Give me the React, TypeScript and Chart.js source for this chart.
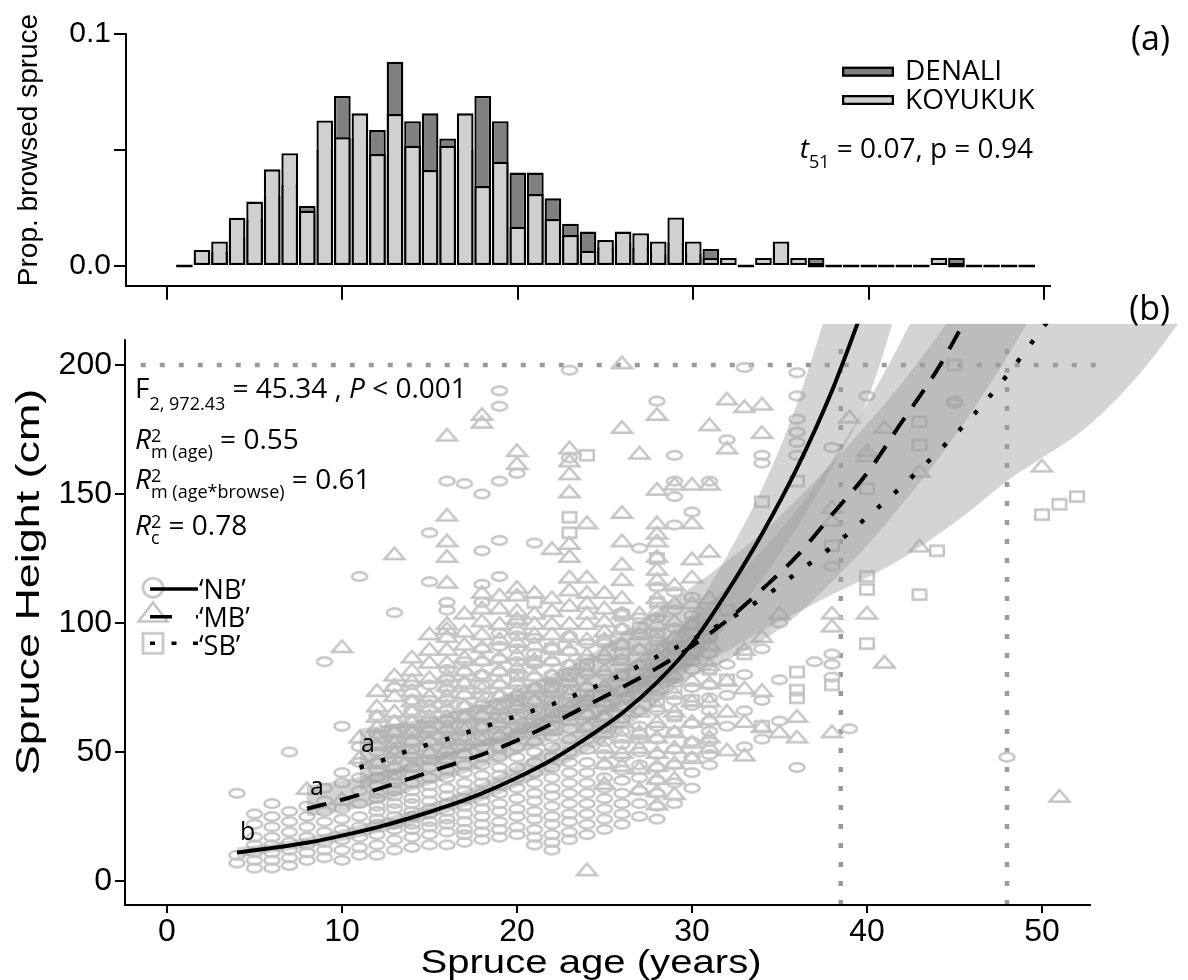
import React, { useEffect, useRef } from "react";
import { Chart, registerables } from "chart.js";

Chart.register(...registerables);

// ---------------- Panel (a): histogram ----------------
const HIST_AGES = [1, 2, 3, 4, 5, 6, 7, 8, 9, 10, 11, 12, 13, 14, 15, 16, 17, 18, 19, 20, 21, 22, 23, 24, 25, 26, 27, 28, 29, 30, 31, 32, 33, 34, 35, 36, 37, 38, 39, 40, 41, 42, 43, 44, 45, 46, 47, 48, 49];
const KOYUKUK = [0, 0.0069, 0.0105, 0.0208, 0.0277, 0.0416, 0.0485, 0.0238, 0.0626, 0.0554, 0.0657, 0.0482, 0.0654, 0.0518, 0.0413, 0.0518, 0.0657, 0.0344, 0.0449, 0.0169, 0.031, 0.0202, 0.0133, 0.0066, 0.0112, 0.0148, 0.0141, 0.0105, 0.0209, 0.0105, 0.0034, 0.0034, 0, 0.0034, 0.0105, 0.0034, 0, 0, 0, 0, 0, 0, 0, 0.0034, 0, 0, 0, 0, 0];
const DENALI = [null, 0.003, 0.006, 0.012, 0.02, 0.03, 0.035, 0.0258, 0.05, 0.0732, 0.055, 0.0585, 0.0879, 0.0623, 0.0657, 0.0549, 0.05, 0.0732, 0.0623, 0.0402, 0.0402, 0.0291, 0.0182, 0.0148, 0.008, 0.01, 0.008, 0.005, 0.01, 0.005, 0.0073, null, null, null, null, null, 0.0034, null, null, null, null, null, null, null, 0.0034, null, null, null, null];
const HIST_Y_TICKS = [0, 0.05, 0.1];
const HIST_Y_LABELS = ["0.0", "", "0.1"];
const X_TICKS = [0, 10, 20, 30, 40, 50];

// ---------------- Panel (b): growth curves ----------------
const HEIGHT_TICKS = [0, 50, 100, 150, 200];

const NB_FIT_AGE = [4, 6, 8, 10, 12, 14, 16, 18, 20, 22, 24, 26, 28, 30, 32, 34, 36, 38, 40];
const NB_FIT = [11, 12.8, 14.8, 17.6, 20.8, 24.6, 29, 34, 40, 47, 55.5, 65, 77, 92, 112, 134.5, 160, 190, 226];
const NB_BAND_AGE = [4, 6, 8, 10, 12, 14, 16, 18, 20, 22, 24, 26, 28, 30, 32, 34, 36, 38, 40, 42];
const NB_LO = [9, 11, 13, 15.5, 18.5, 22, 26.5, 31, 36.5, 42.5, 50, 58.5, 69, 83, 99, 117, 137, 160, 186, 228];
const NB_HI = [13, 14.5, 17, 20, 23.5, 27.5, 32.5, 38, 45, 53, 62, 73, 87, 104, 126, 152, 185, 228, 275, 330];

const MB_FIT_AGE = [8, 10, 12, 14, 16, 18, 20, 22, 24, 26, 28, 30, 32, 34, 36, 38, 40, 42, 44, 46];
const MB_FIT = [28, 31.5, 35.5, 40, 44.5, 49, 54.5, 61, 68, 75, 82.5, 91, 101, 113, 126, 142, 158, 178, 198, 222];
const MB_BAND_AGE = [8, 10, 12, 14, 16, 18, 20, 22, 24, 26, 28, 30, 32, 34, 36, 38, 40, 42, 44, 46, 48, 50];
const MB_LO = [25, 27, 30, 35, 39.5, 44, 49, 55, 61, 67.5, 73.5, 79, 85.5, 93, 103, 116, 130, 146, 163, 182, 203, 226];
const MB_HI = [37, 39, 42, 45.5, 49.5, 54, 59.5, 66, 73.5, 82, 92, 102, 114, 128, 144, 163, 185, 210, 237, 266, 298, 332];

const SB_FIT_AGE = [11, 12, 14, 16, 18, 20, 22, 24, 26, 28, 30, 32, 34, 36, 38, 40, 42, 44, 46, 48, 50, 52];
const SB_FIT = [44, 46, 51, 55, 59.5, 64, 68.5, 74, 80, 87, 93.5, 101, 109.5, 119.5, 129.5, 141, 153, 166, 180, 196, 214, 232];
const SB_BAND_AGE = [11, 12, 14, 16, 18, 20, 22, 24, 26, 28, 30, 32, 34, 36, 38, 40, 42, 44, 46, 48, 50, 52, 54, 56, 58];
const SB_LO = [35, 38, 43.5, 48, 52, 56, 60.5, 65.5, 71, 77, 83, 89, 97, 104, 111, 117.5, 125, 134, 144, 155, 164, 173, 185, 200, 218];
const SB_HI = [59, 60, 62, 65, 69, 74, 80, 87, 96, 105, 114, 124, 135, 148, 162, 177, 193, 211, 231, 252, 276, 300, 330, 360, 392];

// observed spruce heights (cm) per age column
const NB_COLUMNS: Array<[number, number[]]> = [
  [4, [7, 10, 34]],
  [5, [5, 8, 11, 14, 17, 22, 26]],
  [6, [5, 8, 11, 14, 17, 21, 25, 30]],
  [7, [6, 9, 12, 15, 19, 23, 27, 50]],
  [8, [8, 11, 14, 17, 21, 25, 29]],
  [9, [9, 12, 15, 19, 23, 27, 31, 36, 85]],
  [10, [8, 12, 16, 20, 24, 28, 38, 42, 60]],
  [11, [10, 13, 17, 21, 25, 30, 35, 40, 46, 52, 118]],
  [12, [10, 14, 18, 22, 24, 27, 29, 32, 34, 37, 40, 43, 46, 50, 57, 64]],
  [13, [12, 16, 20, 22, 25, 28, 30, 33, 35, 38, 41, 44, 47, 51, 55, 58, 62, 75, 104]],
  [14, [13, 17, 20, 22, 25, 27, 30, 32, 35, 38, 41, 44, 48, 51, 54, 58, 62, 66, 70, 76]],
  [15, [14, 18, 21, 23, 26, 28, 31, 34, 37, 40, 44, 47, 50, 54, 58, 62, 66, 70, 76, 116, 135]],
  [16, [14, 19, 22, 24, 27, 30, 33, 36, 40, 43, 46, 50, 54, 58, 62, 66, 70, 74, 78, 82, 105, 108, 155]],
  [17, [15, 18, 20, 23, 26, 29, 32, 35, 38, 42, 45, 49, 52, 56, 60, 64, 68, 72, 77, 81, 85, 154]],
  [18, [16, 19, 22, 25, 28, 31, 34, 38, 41, 45, 48, 52, 56, 60, 64, 68, 72, 76, 80, 85, 90, 108, 115, 128, 150]],
  [19, [17, 20, 23, 27, 30, 34, 37, 41, 44, 48, 52, 56, 60, 64, 68, 72, 76, 81, 86, 91, 96, 118, 132, 155, 184, 190]],
  [20, [18, 21, 25, 28, 32, 36, 40, 44, 48, 52, 56, 60, 64, 68, 72, 76, 80, 85, 90, 95, 100, 158]],
  [21, [14, 17, 20, 24, 27, 31, 34, 38, 42, 46, 50, 54, 58, 62, 66, 70, 75, 79, 84, 88, 94, 131]],
  [22, [12, 15, 18, 22, 25, 29, 33, 36, 40, 44, 48, 52, 56, 60, 65, 70, 75, 80, 85, 90]],
  [23, [16, 19, 23, 26, 30, 34, 38, 42, 46, 50, 55, 59, 64, 69, 74, 79, 84, 89, 95, 164, 198]],
  [24, [18, 22, 26, 30, 34, 38, 42, 46, 51, 55, 60, 65, 70, 75, 80, 86, 92]],
  [25, [20, 24, 28, 32, 36, 40, 45, 49, 54, 59, 64, 69, 74, 80, 86, 92]],
  [26, [22, 26, 30, 34, 39, 43, 48, 53, 58, 63, 68, 74, 80, 86, 92, 98, 104]],
  [27, [25, 30, 35, 40, 45, 50, 55, 60, 66, 72, 78, 84, 90, 96, 102, 129]],
  [28, [24, 29, 34, 39, 44, 49, 55, 60, 66, 72, 78, 84, 90, 96, 102, 108, 114, 186]],
  [29, [30, 38, 45, 51, 58, 64, 70, 77, 84, 91, 98, 105, 112, 138, 149, 155, 165]],
  [30, [36, 42, 48, 54, 61, 68, 75, 82, 89, 96, 103, 110, 143]],
  [31, [45, 49, 54, 58, 62, 66, 71, 76, 82, 88, 94, 100, 155]],
  [32, [60, 72, 84, 171]],
  [33, [52, 66, 80, 199]],
  [34, [55, 70, 90, 162, 165]],
  [35, [62, 78, 100]],
  [36, [44, 165, 170, 174, 179, 188, 197]],
  [37, [85]],
  [38, [79, 84, 88, 122, 168]],
  [39, [59]],
  [40, [188]],
  [45, [185, 186]],
  [48, [48]],
];
const MB_COLUMNS: Array<[number, number[]]> = [
  [8, [36]],
  [10, [32, 91]],
  [11, [48, 56]],
  [12, [46, 53, 56, 60, 64, 68, 74]],
  [13, [40, 45, 50, 54, 58, 62, 66, 72, 76, 80, 127]],
  [14, [45, 50, 55, 58, 62, 66, 70, 74, 78, 82, 87]],
  [15, [50, 55, 60, 64, 68, 72, 79, 85, 90, 96]],
  [16, [48, 52, 56, 60, 64, 68, 72, 76, 80, 85, 90, 95, 98, 100, 116, 126, 132, 142, 173]],
  [17, [50, 55, 59, 64, 68, 73, 77, 82, 87, 92, 97, 104]],
  [18, [55, 60, 65, 70, 75, 80, 86, 91, 96, 101, 106, 112, 178, 181]],
  [19, [57, 62, 67, 72, 77, 82, 87, 94, 100, 106, 111]],
  [20, [58, 63, 68, 73, 78, 83, 88, 93, 98, 102, 105, 111, 114, 162, 167]],
  [21, [55, 60, 65, 70, 75, 80, 86, 92, 96, 100, 104, 112]],
  [22, [59, 64, 69, 74, 80, 86, 91, 96, 100, 105, 110, 129]],
  [23, [63, 68, 73, 78, 84, 90, 95, 100, 107, 113, 118, 126, 131, 151, 158, 163, 168]],
  [24, [4.5, 60, 65, 70, 76, 82, 88, 94, 100, 104, 108, 112, 118, 139]],
  [25, [38, 46, 52, 58, 64, 70, 76, 82, 88, 94, 97, 101, 106, 112]],
  [26, [45, 50, 56, 62, 68, 74, 80, 86, 92, 98, 104, 110, 117, 123, 132, 143, 176, 201]],
  [27, [36, 44, 52, 58, 66, 72, 78, 84, 90, 96, 104, 166]],
  [28, [30, 35, 40, 45, 50, 56, 62, 68, 75, 81, 88, 94, 100, 105, 110, 117, 121, 126, 132, 135, 139, 152, 181]],
  [29, [34, 40, 46, 52, 58, 66, 73, 80, 88, 95, 101, 108, 115, 154]],
  [30, [48, 54, 62, 70, 78, 86, 93, 100, 108, 118, 125, 139, 154]],
  [31, [52, 56, 63, 70, 77, 84, 92, 110, 128, 154, 177]],
  [32, [51, 66, 78, 168, 187]],
  [33, [49, 62, 75, 90, 184]],
  [34, [60, 74, 95, 174, 185]],
  [35, [58, 104]],
  [36, [56, 64]],
  [38, [58, 99, 104, 140, 145]],
  [39, [180]],
  [40, [104, 165, 167]],
  [41, [85, 176]],
  [43, [130, 159]],
  [50, [161]],
  [51, [33]],
];
const SB_COLUMNS: Array<[number, number[]]> = [
  [18, [60]],
  [19, [52]],
  [20, [70, 80]],
  [21, [85, 108]],
  [22, [66, 75, 90]],
  [23, [80, 135, 141]],
  [24, [72, 84, 165]],
  [25, [60, 68, 93]],
  [26, [80, 88, 103]],
  [27, [57, 75, 98]],
  [28, [70, 82, 95, 108, 125]],
  [29, [64, 75, 90]],
  [30, [70, 88, 100]],
  [31, [82, 95]],
  [32, [78, 105]],
  [33, [88]],
  [34, [60, 147]],
  [36, [71, 74, 81, 155]],
  [38, [76, 130]],
  [40, [92, 113, 118, 152]],
  [43, [111, 169, 178]],
  [44, [128]],
  [45, [200]],
  [50, [142]],
  [51, [146]],
  [52, [149]],
];

// reference lines
const REF_HEIGHT = 200;
const REF_HEIGHT_SPAN = [-1.5, 53.1];
const REF_AGES = [38.5, 48];
const REF_AGE_SPAN = [-9.3, 209];

// axis ranges
const HIST_X_RANGE = [-2.33, 50.33];
const HIST_Y_RANGE = [-0.0085, 0.1];
const AGE_RANGE = [-2.4, 58];
const HEIGHT_RANGE = [-9.3, 216];
const AXIS_AGE_END = 52.8;
const AXIS_HEIGHT_END = 210;

// styles
const BAR_DARK = "#808080";
const BAR_LIGHT = "#d0d0d0";
const POINT_GRAY = "#c4c4c4";
const BAND_FILL = "rgba(160,160,160,0.45)";
const REF_GRAY = "#9a9a9a";
const TXT = '"Open Sans", "Noto Sans", sans-serif';
const AX = '"Liberation Sans", Arial, sans-serif';
const TOP_B = 280;

type Run = { t: string; s: number; it?: boolean; dy?: number; hold?: boolean };
const fontOf = (r: Run) => `${r.it ? "italic " : ""}${r.s}px ${TXT}`;

function drawRuns(ctx: CanvasRenderingContext2D, x: number, y: number, list: Run[], align: "left" | "right" = "left") {
  ctx.textAlign = "left";
  ctx.textBaseline = "alphabetic";
  let total = 0;
  let held = 0;
  for (const r of list) {
    ctx.font = fontOf(r);
    const w = ctx.measureText(r.t).width;
    if (r.hold) held = Math.max(held, w);
    else {
      total += Math.max(w, held);
      held = 0;
    }
  }
  let cx = align === "right" ? x - total : x;
  held = 0;
  for (const r of list) {
    ctx.font = fontOf(r);
    ctx.fillText(r.t, cx, y + (r.dy || 0));
    const w = ctx.measureText(r.t).width;
    if (r.hold) held = Math.max(held, w);
    else {
      cx += Math.max(w, held);
      held = 0;
    }
  }
}

// axis title text, optionally stretched along its own direction
function drawTitle(ctx: CanvasRenderingContext2D, text: string, x: number, y: number, size: number, stretch: number, rotate: boolean) {
  ctx.save();
  ctx.translate(x, y);
  if (rotate) ctx.rotate(-Math.PI / 2);
  ctx.scale(stretch, 1);
  ctx.font = `${size}px ${AX}`;
  ctx.textAlign = "center";
  ctx.textBaseline = rotate ? "middle" : "alphabetic";
  ctx.fillStyle = "#000";
  ctx.fillText(text, 0, 0);
  ctx.restore();
}

function makeMarker(kind: "circle" | "tri" | "square", w: number, h: number, lw: number, color: string) {
  const c = document.createElement("canvas");
  c.width = Math.ceil(w + lw + 2);
  c.height = Math.ceil(h + lw + 2);
  const g = c.getContext("2d")!;
  g.strokeStyle = color;
  g.lineWidth = lw;
  const cx = c.width / 2;
  const cy = c.height / 2;
  g.beginPath();
  if (kind === "circle") g.ellipse(cx, cy, w / 2, h / 2, 0, 0, Math.PI * 2);
  else if (kind === "tri") {
    g.moveTo(cx, cy - h / 2);
    g.lineTo(cx + w / 2, cy + h / 2);
    g.lineTo(cx - w / 2, cy + h / 2);
    g.closePath();
  } else g.rect(cx - w / 2, cy - h / 2, w, h);
  g.stroke();
  return c;
}

const flatten = (cols: Array<[number, number[]]>) =>
  cols.flatMap(([a, hs]) => hs.map((h) => ({ x: a, y: h })));
const pairs = (xs: number[], ys: (number | null)[]) => xs.map((x, i) => ({ x, y: ys[i] }));

export default function App() {
  const refA = useRef<HTMLCanvasElement>(null);
  const refB = useRef<HTMLCanvasElement>(null);

  useEffect(() => {
    const charts: Chart[] = [];
    const tickGrid = (len: number) => ({
      drawOnChartArea: false,
      drawTicks: true,
      tickLength: len,
      color: "#000",
      lineWidth: 2,
      offset: false,
    });

    // ---------- Panel (a) ----------
    const annotA = {
      id: "annotA",
      afterDraw(chart: any) {
        const ctx: CanvasRenderingContext2D = chart.ctx;
        ctx.save();
        ctx.fillStyle = "#000";
        const boxes: Array<[string, string, number, number]> = [
          ["DENALI", BAR_DARK, 66.7, 80],
          ["KOYUKUK", BAR_LIGHT, 95, 109.3],
        ];
        for (const [label, col, by, ty] of boxes) {
          ctx.fillStyle = col;
          ctx.fillRect(842, by, 52, 10);
          ctx.strokeStyle = "#000";
          ctx.lineWidth = 2.3;
          ctx.strokeRect(843.15, by + 1.15, 49.7, 7.7);
          ctx.fillStyle = "#000";
          drawRuns(ctx, 905, ty, [{ t: label, s: 28 }]);
        }
        drawRuns(ctx, 1033, 158, [
          { t: "t", s: 28, it: true },
          { t: "51", s: 18, dy: 10 },
          { t: " = 0.07, p = 0.94", s: 28 },
        ], "right");
        drawRuns(ctx, 1170, 50, [{ t: "(a)", s: 34 }], "right");
        drawTitle(ctx, "Prop. browsed spruce", 29, 150, 28, 1, true);
        ctx.restore();
      },
    };

    if (refA.current) {
      charts.push(
        new Chart(refA.current, {
          type: "bar",
          data: {
            datasets: [
              {
                label: "KOYUKUK",
                data: pairs(HIST_AGES, KOYUKUK) as any,
                backgroundColor: BAR_LIGHT,
                borderColor: "#000",
                borderWidth: 2.3,
                borderSkipped: false,
                grouped: false,
                barPercentage: 1,
                categoryPercentage: 0.95,
                minBarLength: 3,
                order: 0,
              } as any,
              {
                label: "DENALI",
                data: pairs(HIST_AGES, DENALI) as any,
                backgroundColor: BAR_DARK,
                borderColor: "#000",
                borderWidth: 2.3,
                borderSkipped: false,
                grouped: false,
                barPercentage: 1,
                categoryPercentage: 0.95,
                order: 1,
              } as any,
            ],
          },
          options: {
            animation: false,
            responsive: false,
            maintainAspectRatio: false,
            layout: { padding: { left: 0, right: 138, top: 33.7, bottom: 0 } },
            plugins: { legend: { display: false }, tooltip: { enabled: false } },
            scales: {
              x: {
                type: "linear",
                offset: false,
                min: HIST_X_RANGE[0],
                max: HIST_X_RANGE[1],
                afterBuildTicks: (s: any) => {
                  s.ticks = X_TICKS.map((v) => ({ value: v }));
                },
                afterFit: (s: any) => {
                  s.height = 24.3;
                },
                ticks: { display: false },
                grid: tickGrid(14),
                border: { display: true, color: "#000", width: 2 },
              },
              y: {
                type: "linear",
                min: HIST_Y_RANGE[0],
                max: HIST_Y_RANGE[1],
                afterBuildTicks: (s: any) => {
                  s.ticks = HIST_Y_TICKS.map((v) => ({ value: v }));
                },
                afterFit: (s: any) => {
                  s.width = 126;
                },
                ticks: {
                  color: "#000",
                  font: { family: AX, size: 30 },
                  padding: 3,
                  callback: (v: any) => {
                    const i = HIST_Y_TICKS.indexOf(Number(v));
                    return i >= 0 ? HIST_Y_LABELS[i] : "";
                  },
                },
                grid: tickGrid(12),
                border: { display: true, color: "#000", width: 2 },
              },
            },
          } as any,
          plugins: [annotA],
        })
      );
    }

    // ---------- Panel (b) ----------
    const mCircle = makeMarker("circle", 15, 8.5, 2.5, POINT_GRAY);
    const mTri = makeMarker("tri", 20, 11.5, 2.5, POINT_GRAY);
    const mSquare = makeMarker("square", 13.5, 10, 2.5, POINT_GRAY);
    const lCircle = makeMarker("circle", 20, 19, 2.6, POINT_GRAY);
    const lTri = makeMarker("tri", 29, 19, 2.6, POINT_GRAY);
    const lSquare = makeMarker("square", 20, 20, 2.6, POINT_GRAY);

    const annotB = {
      id: "annotB",
      afterDraw(chart: any) {
        const ctx: CanvasRenderingContext2D = chart.ctx;
        const ca = chart.chartArea;
        const xs = chart.scales.x;
        const ys = chart.scales.y;
        ctx.save();
        ctx.strokeStyle = "#000";
        ctx.lineWidth = 2;
        ctx.beginPath();
        ctx.moveTo(ca.left, ys.getPixelForValue(AXIS_HEIGHT_END));
        ctx.lineTo(ca.left, ca.bottom);
        ctx.lineTo(xs.getPixelForValue(AXIS_AGE_END), ca.bottom);
        ctx.stroke();

        ctx.fillStyle = "#000";
        const o = TOP_B;
        drawRuns(ctx, 135, 398 - o, [
          { t: "F", s: 28 },
          { t: "2, 972.43", s: 18, dy: 12 },
          { t: " = 45.34 , ", s: 28 },
          { t: "P", s: 28, it: true },
          { t: " < 0.001", s: 28 },
        ]);
        const r2 = (y: number, sub: string, val: string) =>
          drawRuns(ctx, 135, y - o, [
            { t: "R", s: 28, it: true },
            { t: "2", s: 18, dy: -7, hold: true },
            { t: sub, s: 18, dy: 9 },
            { t: val, s: 28 },
          ]);
        r2(449, "m (age)", " = 0.55");
        r2(489, "m (age*browse)", " = 0.61");
        r2(535, "c", " = 0.78");

        const leg: Array<[HTMLCanvasElement, number, number, number[], string, number]> = [
          [lCircle, 587.7, 589, [], "\u2018NB\u2019", 599],
          [lTri, 612, 616.7, [22, 24], "\u2018MB\u2019", 627],
          [lSquare, 643.3, 643.3, [5, 16.5], "\u2018SB\u2019", 655],
        ];
        for (const [img, my, ly, dash, label, ty] of leg) {
          ctx.drawImage(img, 153 - img.width / 2, my - o - img.height / 2);
          ctx.save();
          ctx.strokeStyle = "#000";
          ctx.lineWidth = 3.5;
          ctx.setLineDash(dash);
          ctx.beginPath();
          ctx.moveTo(150, ly - o);
          ctx.lineTo(198, ly - o);
          ctx.stroke();
          ctx.restore();
          drawRuns(ctx, 199, ty - o, [{ t: label, s: 27 }]);
        }
        drawRuns(ctx, 240, 840 - o, [{ t: "b", s: 25 }]);
        drawRuns(ctx, 310, 795 - o, [{ t: "a", s: 25 }]);
        drawRuns(ctx, 361, 751.7 - o, [{ t: "a", s: 25 }]);
        drawRuns(ctx, 1170, 320 - o, [{ t: "(b)", s: 34 }], "right");

        drawTitle(ctx, "Spruce age (years)", 591, 973 - o, 34, 1.18, false);
        drawTitle(ctx, "Spruce Height (cm)", 30, 582 - o, 33, 1.36, true);
        ctx.restore();
      },
    };

    const line = (ages: number[], vals: number[], dash: number[], w: number) => ({
      type: "line",
      data: pairs(ages, vals),
      borderColor: "#000",
      borderWidth: w,
      borderDash: dash,
      borderCapStyle: "butt",
      pointRadius: 0,
      fill: false,
      cubicInterpolationMode: "monotone",
      order: 0,
    });
    const band = (ages: number[], lo: number[], hi: number[]) => [
      {
        type: "line",
        data: pairs(ages, lo),
        borderWidth: 0,
        borderColor: "transparent",
        pointRadius: 0,
        fill: false,
        cubicInterpolationMode: "monotone",
        order: 1,
      },
      {
        type: "line",
        data: pairs(ages, hi),
        borderWidth: 0,
        borderColor: "transparent",
        backgroundColor: BAND_FILL,
        pointRadius: 0,
        fill: "-1",
        cubicInterpolationMode: "monotone",
        order: 1,
      },
    ];
    const scatter = (cols: Array<[number, number[]]>, marker: HTMLCanvasElement) => ({
      type: "line",
      showLine: false,
      data: flatten(cols),
      pointStyle: marker,
      pointRadius: 5,
      order: 2,
    });
    const ref = (pts: { x: number; y: number }[]) => ({
      type: "line",
      data: pts,
      borderColor: REF_GRAY,
      borderWidth: 4.5,
      borderDash: [5, 14],
      borderCapStyle: "butt",
      pointRadius: 0,
      fill: false,
      order: 3,
    });

    if (refB.current) {
      charts.push(
        new Chart(refB.current, {
          type: "line",
          data: {
            datasets: [
              ...band(NB_BAND_AGE, NB_LO, NB_HI),
              ...band(MB_BAND_AGE, MB_LO, MB_HI),
              ...band(SB_BAND_AGE, SB_LO, SB_HI),
              line(NB_FIT_AGE, NB_FIT, [], 4),
              line(MB_FIT_AGE, MB_FIT, [20, 14], 4),
              line(SB_FIT_AGE, SB_FIT, [4.5, 18], 4.5),
              scatter(NB_COLUMNS, mCircle),
              scatter(MB_COLUMNS, mTri),
              scatter(SB_COLUMNS, mSquare),
              ref(REF_HEIGHT_SPAN.map((a) => ({ x: a, y: REF_HEIGHT }))),
              ...REF_AGES.map((a) => ref(REF_AGE_SPAN.map((h) => ({ x: a, y: h })))),
            ] as any,
          },
          options: {
            animation: false,
            responsive: false,
            maintainAspectRatio: false,
            layout: { padding: { left: 0, right: 4.3, top: 43.7, bottom: 0 } },
            plugins: { legend: { display: false }, tooltip: { enabled: false } },
            scales: {
              x: {
                type: "linear",
                min: AGE_RANGE[0],
                max: AGE_RANGE[1],
                afterBuildTicks: (s: any) => {
                  s.ticks = X_TICKS.map((v) => ({ value: v }));
                },
                afterFit: (s: any) => {
                  s.height = 75;
                },
                ticks: {
                  color: "#000",
                  font: { family: AX, size: 32 },
                  padding: 0,
                  maxRotation: 0,
                  autoSkip: false,
                  callback: (v: any) => String(v),
                },
                grid: tickGrid(8),
                border: { display: false },
              },
              y: {
                type: "linear",
                min: HEIGHT_RANGE[0],
                max: HEIGHT_RANGE[1],
                afterBuildTicks: (s: any) => {
                  s.ticks = HEIGHT_TICKS.map((v) => ({ value: v }));
                },
                afterFit: (s: any) => {
                  s.width = 125;
                },
                ticks: {
                  color: "#000",
                  font: { family: AX, size: 32 },
                  padding: 3,
                  callback: (v: any) => String(v),
                },
                grid: tickGrid(10),
                border: { display: false },
              },
            },
          } as any,
          plugins: [annotB],
        })
      );
    }

    const fonts = (document as any).fonts;
    if (fonts && fonts.load) {
      Promise.all([
        fonts.load(`28px "Open Sans"`),
        fonts.load(`italic 28px "Open Sans"`),
        fonts.load(`27px "Liberation Sans"`),
      ])
        .then(() => charts.forEach((c) => c.draw()))
        .catch(() => {});
    }
    return () => charts.forEach((c) => c.destroy());
  }, []);

  return (
    <div style={{ position: "absolute", left: 0, top: 0, width: 1188, height: 980, background: "#fff" }}>
      <canvas ref={refA} width={1188} height={310} style={{ position: "absolute", left: 0, top: 0, width: 1188, height: 310 }} />
      <canvas ref={refB} width={1188} height={700} style={{ position: "absolute", left: 0, top: TOP_B, width: 1188, height: 700 }} />
    </div>
  );
}
